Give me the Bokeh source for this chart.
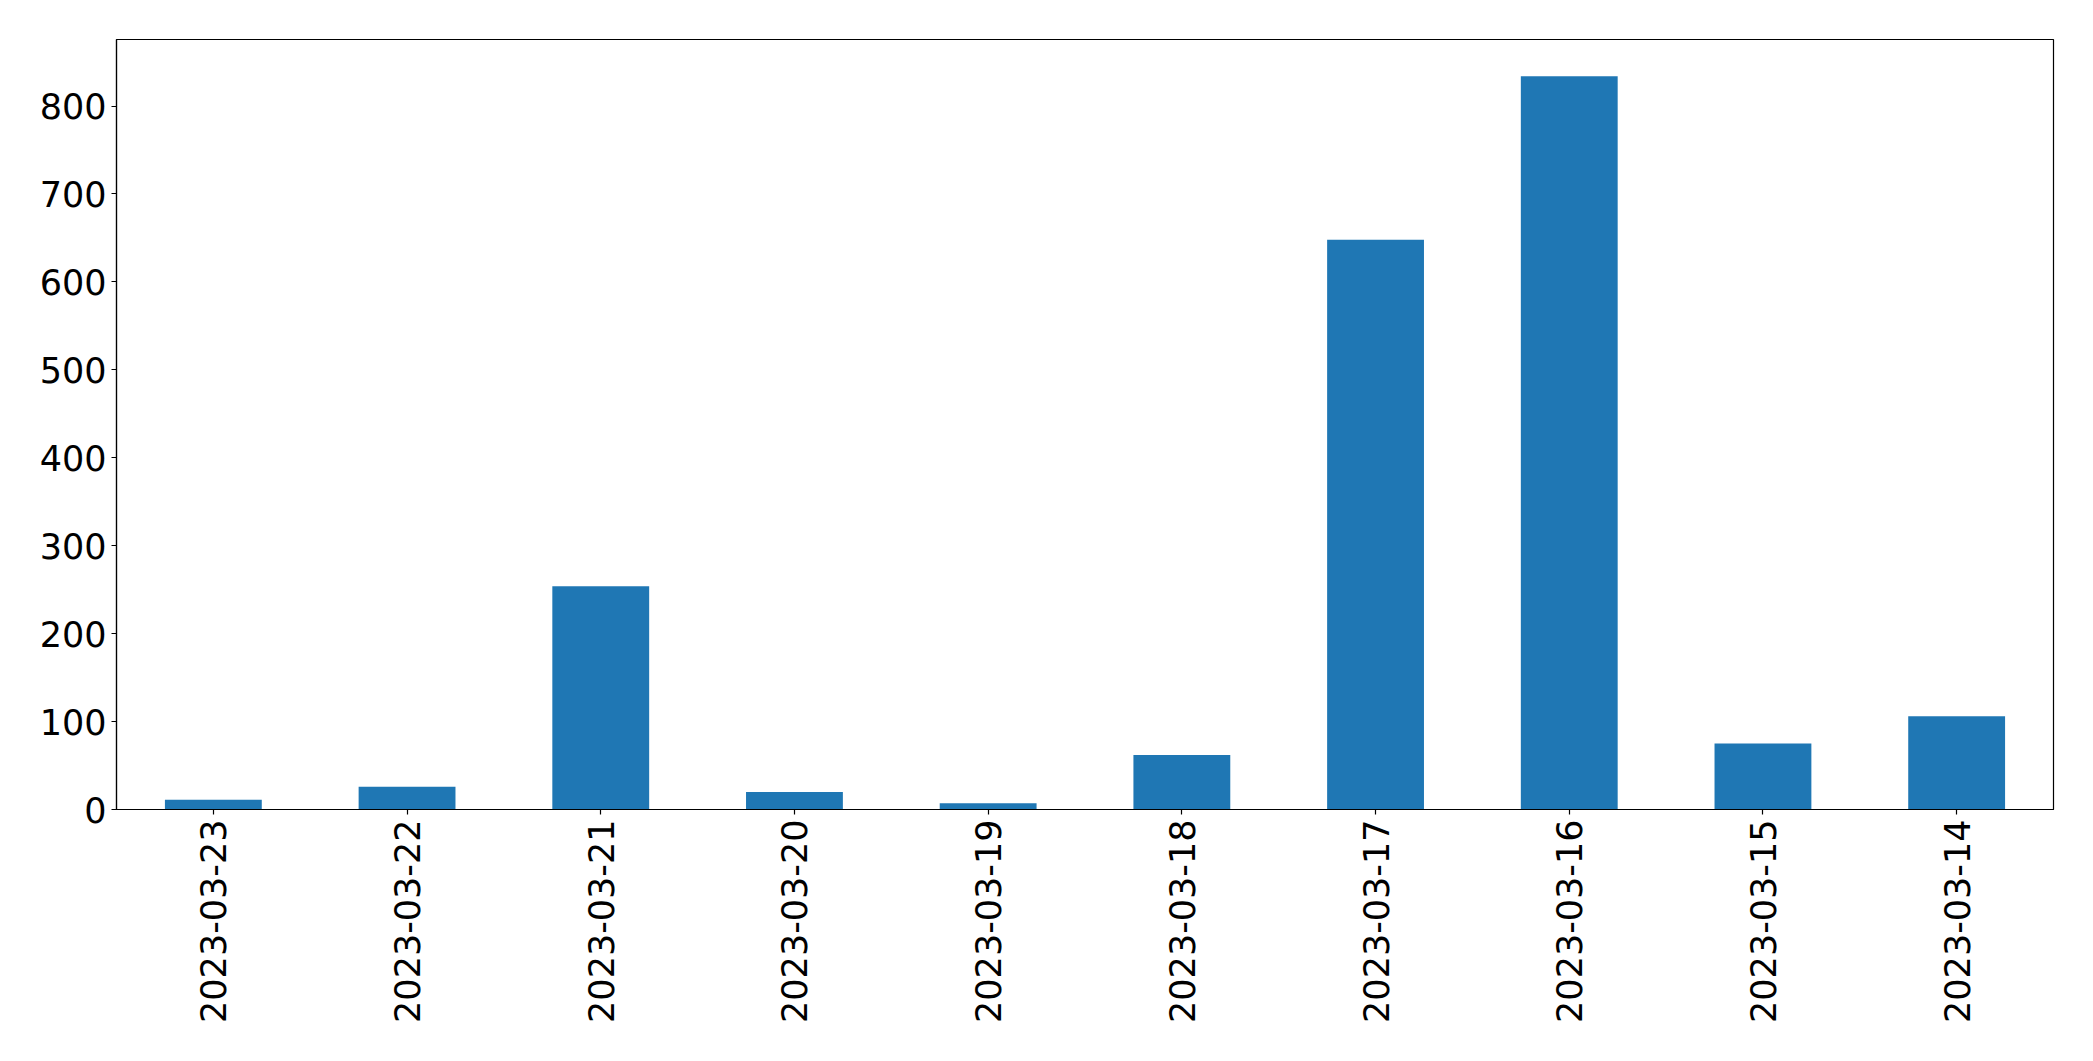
import math
from bokeh.plotting import figure
from bokeh.models import Range1d, FactorRange, FixedTicker, ColumnDataSource
from bokeh.embed import file_html
from bokeh.resources import INLINE

dates = ["2023-03-23", "2023-03-22", "2023-03-21", "2023-03-20", "2023-03-19",
         "2023-03-18", "2023-03-17", "2023-03-16", "2023-03-15", "2023-03-14"]
counts = [11, 26, 254, 20, 7, 62, 648, 834, 75, 106]
y_ticks = [0, 100, 200, 300, 400, 500, 600, 700, 800]

source = ColumnDataSource(data=dict(date=dates, count=counts))

ymax = max(counts) * 1.05

p = figure(
    x_range=FactorRange(factors=dates, range_padding=0),
    y_range=Range1d(0, ymax),
    frame_width=1937, frame_height=770,
    min_border_left=116, min_border_top=39, min_border_right=23, min_border_bottom=235,
    output_backend="svg", toolbar_location=None,
)

p.vbar(x="date", top="count", width=0.5, source=source,
       fill_color="#1f77b4", line_color=None)

p.grid.visible = False
p.outline_line_color = "black"
p.outline_line_width = 1.2
p.outline_line_alpha = 1.0

for ax in (p.xaxis, p.yaxis):
    ax.axis_line_color = "black"
    ax.axis_line_width = 1.2
    ax.major_tick_line_color = "black"
    ax.major_tick_line_width = 1.2
    ax.major_tick_out = 5
    ax.major_tick_in = 0
    ax.minor_tick_line_color = None
    ax.major_label_text_font = "DejaVu Sans"
    ax.major_label_text_font_size = "35px"
    ax.major_label_text_color = "black"
    ax.major_label_standoff = 5

p.yaxis.ticker = FixedTicker(ticks=y_ticks)
p.xaxis.major_label_orientation = math.pi / 2

open("out.html", "w").write(file_html(p, INLINE))
